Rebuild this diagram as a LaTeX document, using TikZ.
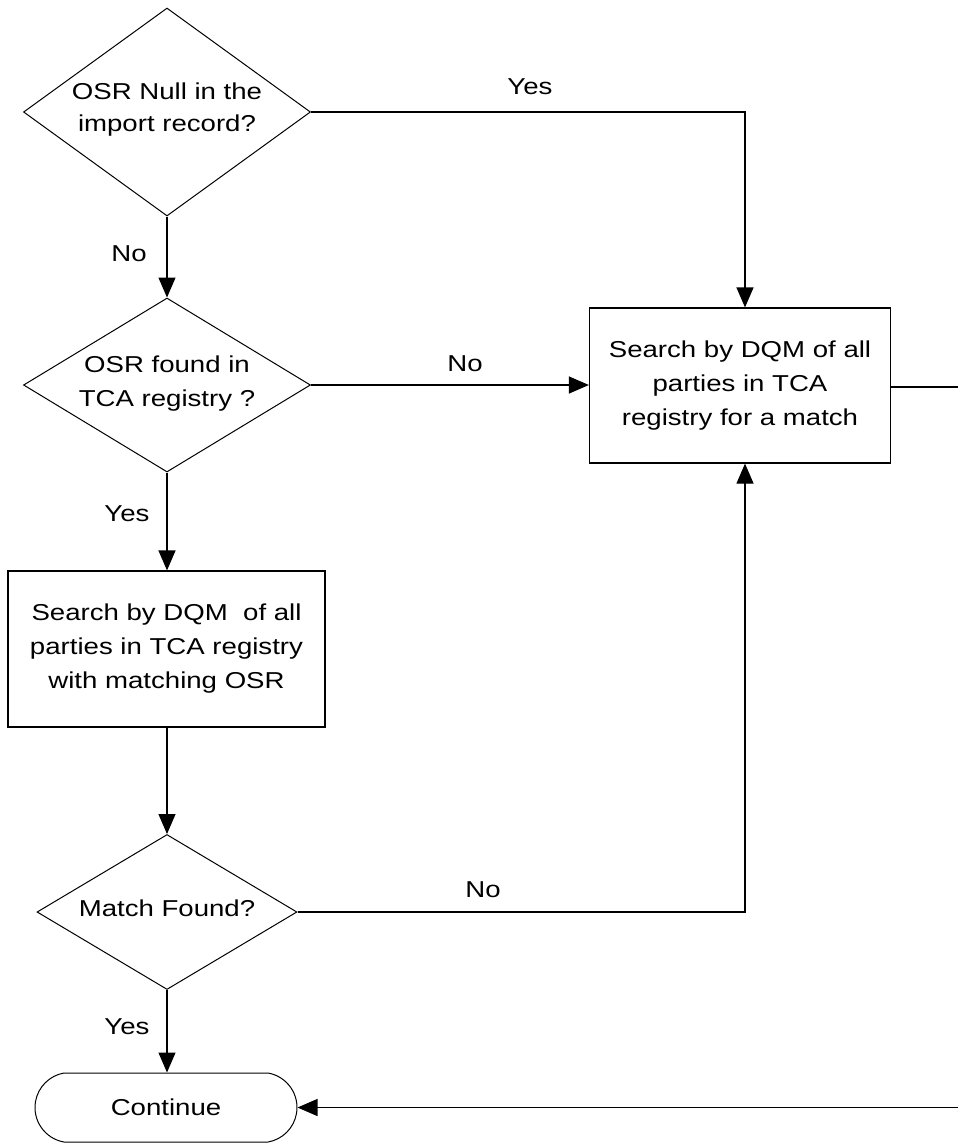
\documentclass[tikz,border=0pt]{standalone}
\usepackage{fontspec}
\setmainfont{Liberation Sans}[FakeStretch=1.2]
\usetikzlibrary{shapes.geometric,shapes.misc,arrows.meta}
\newcommand\dtext[1]{\makebox[0pt]{\raisebox{-0.3em}{\smash{\begin{tabular}{@{}c@{}}#1\end{tabular}}}}}
\begin{document}
\begin{tikzpicture}[x=1pt,y=-1pt,
  every node/.style={font=\fontsize{23}{34}\selectfont},
  line/.style={line width=1.2pt},
  arr/.style={line, -{Triangle[length=20pt,width=17pt]}},
  dec/.style={diamond, draw, line width=1pt, inner sep=0pt, minimum width=#1},
  procbox/.style={rectangle, draw, line width=1.2pt, align=center, inner sep=0pt},
  term/.style={rounded rectangle, rounded rectangle arc length=160, draw, line width=1pt, minimum width=262pt, minimum height=69pt, inner sep=0pt},
  lbl/.style={inner sep=0pt}]
\useasboundingbox (0,0) rectangle (958,1144);
\node[dec=287pt, minimum height=208pt] (d1) at (167,112) {\renewcommand\arraystretch{0.92}\dtext{OSR Null in the\\import record?}};
\node[dec=287pt, minimum height=174pt] (d2) at (167,385) {\dtext{OSR found in\\TCA registry ?}};
\node[dec=260pt, minimum height=155pt] (d3) at (167,912) {\dtext{Match Found?}};
\node[procbox, minimum width=301pt, minimum height=155pt] (b1) at (740,385.5) {Search by DQM of all\\parties in TCA\\registry for a match};
\node[procbox, minimum width=317pt, minimum height=156pt] (b2) at (166.5,649) {Search by DQM\ \ of all\\parties in TCA registry\\with matching OSR};
\node[term] (c) at (166,1107.5) {Continue};
\coordinate (r1) at (958,387);
\coordinate (r2) at (958,1107.5);
\coordinate (k1) at (745,112);
\coordinate (k3) at (745,912);
% connectors
\draw[arr] (d1.east) -- (k1) -- (b1.north -| k1);
\draw[arr] (d1.south) -- (d2.north);
\draw[arr] (d2.east) -- (b1.west |- d2.east);
\draw[arr] (d2.south) -- (b2.north -| d2.south);
\draw[arr] (b2.south -| d3.north) -- (d3.north);
\draw[arr] (d3.east) -- (k3) -- (b1.south -| k3);
\draw[arr] (d3.south) -- (c.north -| d3.south);
\draw[line] (b1.east |- r1) -- (r1);
\draw[arr] (r2) -- (c.east);
% labels
\node[lbl] (l1) at (530,87) {Yes};
\node[lbl] (l2) at (129,254) {No};
\node[lbl] (l3) at (465,364) {No};
\node[lbl] (l4) at (127,514) {Yes};
\node[lbl] (l5) at (483,890) {No};
\node[lbl] (l6) at (127,1027) {Yes};
\end{tikzpicture}
\end{document}
